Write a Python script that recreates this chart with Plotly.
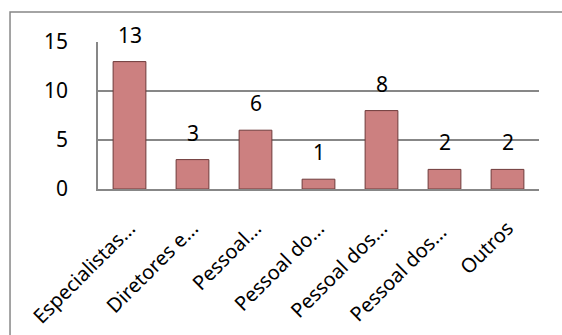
import plotly.graph_objects as go

categories = [
    "Especialistas...",
    "Diretores e...",
    "Pessoal...",
    "Pessoal do...",
    "Pessoal dos...",
    "Pessoal dos... ",
    "Outros",
]
values = [13, 3, 6, 1, 8, 2, 2]
y_ticks = [0, 5, 10, 15]

FONT = "Noto Sans"

fig = go.Figure()
fig.add_trace(
    go.Bar(
        x=categories,
        y=values,
        marker=dict(color="#CC8080", line=dict(color="#6E3A3A", width=1)),
        hoverinfo="skip",
    )
)

# value labels sitting above each bar
for cat, val in zip(categories, values):
    fig.add_annotation(
        x=cat, y=val, text=str(val), showarrow=False,
        yanchor="bottom", yshift=11,
        font=dict(family=FONT, size=21, color="#000000"),
    )

# outer chart frame (extends past the right and bottom page edges)
fig.add_shape(
    type="rect", xref="paper", yref="paper",
    x0=-0.1995, x1=1.08, y0=-1.1, y1=1.204,
    line=dict(color="#878787", width=1.5), fillcolor="rgba(0,0,0,0)",
    layer="below",
)

fig.update_layout(
    width=562, height=335,
    margin=dict(l=98, r=23, t=42, b=146, autoexpand=False),
    paper_bgcolor="white", plot_bgcolor="white",
    bargap=0.48,
    showlegend=False,
    font=dict(family=FONT, color="#000000"),
    xaxis=dict(
        tickangle=-45,
        tickfont=dict(family=FONT, size=20),
        showline=True, linecolor="#878787", linewidth=1.5,
        showgrid=False, ticks="",
        ticklabelstandoff=18,
        automargin=False,
    ),
    yaxis=dict(
        range=[0, 15],
        tickvals=y_ticks,
        tickfont=dict(family=FONT, size=21),
        showgrid=True, gridcolor="#878787", gridwidth=1.5,
        showline=True, linecolor="#878787", linewidth=1.5,
        zeroline=False, ticks="",
        ticklabelstandoff=24,
        automargin=False,
    ),
)

fig.write_html("out.html")
